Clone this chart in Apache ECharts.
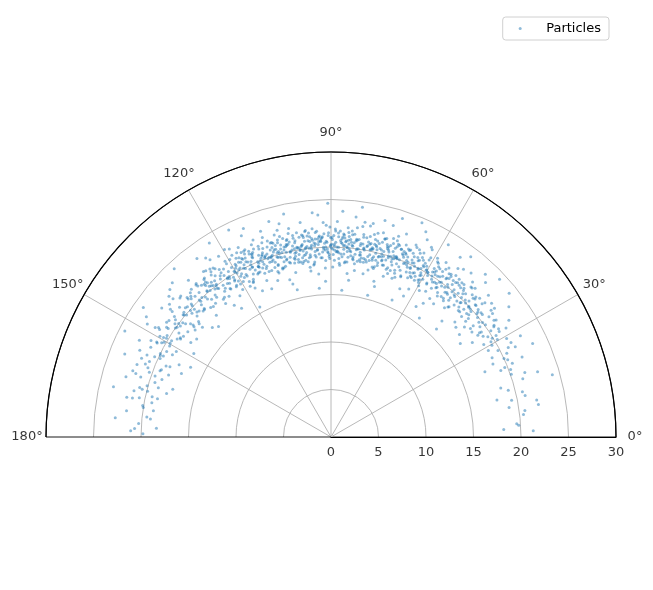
<!DOCTYPE html>
<html lang="en">

<head>
  <meta charset="utf-8" />
  <title></title>
  <script src="https://cdn.jsdelivr.net/npm/echarts@6/dist/echarts.min.js"></script>
  <style>
    * {
      margin: 0;
      padding: 0;
    }

    #chart-container {
      position: relative;
      width: 653px;
      height: 590px;
      overflow: hidden;
    }
  </style>
</head>

<body>
  <div id="chart-container"></div>

  <script>
    // [radius, angle in degrees], read off the picture bin by bin
    // wide band, incl. the outliers
    const particlesBand = [
      [18.2, 2.5], [19.6, 4.1], [21.3, 1.8], [20.4, 6.7], [22.1, 8.9], [19.0, 9.4],
      [19.4, 11.5], [22.0, 10.2], [24.2, 15.7], [20.7, 13.3], [18.6, 16.1], [21.5, 18.4], [20.1, 19.2], [17.9, 12.6], [22.8, 17.5],
      [20.5, 25.5], [19.2, 21.4], [21.8, 22.7], [18.7, 24.3], [20.9, 26.8], [22.6, 28.1], [19.8, 27.4], [17.6, 23.0], [21.2, 29.3], [20.2, 20.6], [23.4, 24.9], [18.9, 28.8], [20.6, 22.1], [19.5, 29.7], [21.6, 26.1],
      [20.3, 30.4], [18.8, 31.2], [21.7, 31.9], [19.6, 32.6], [22.4, 33.3], [17.9, 33.8], [20.8, 34.4], [19.1, 35.1], [21.1, 35.6], [23.2, 36.2], [18.5, 36.7], [20.0, 37.1], [19.7, 37.8], [21.9, 38.2], [17.3, 38.6], [20.5, 39.0], [18.2, 39.5], [22.0, 39.8], [19.3, 34.9], [20.9, 32.1], [16.8, 35.9], [21.4, 37.4], [19.9, 31.5], [24.1, 38.9], [20.2, 33.6],
      [20.1, 40.2], [18.7, 40.7], [21.5, 41.1], [19.4, 41.6], [22.3, 42.0], [20.6, 42.5], [17.8, 42.9], [19.9, 43.3], [21.0, 43.8], [18.9, 44.2], [20.4, 44.6], [23.0, 45.0], [19.2, 45.5], [21.8, 45.9], [16.9, 46.3], [20.7, 46.8], [19.5, 47.2], [22.1, 47.6], [18.4, 48.0], [20.2, 48.5], [21.3, 48.9], [19.0, 49.3], [20.9, 49.8], [17.5, 41.3], [24.3, 43.1], [20.0, 44.9], [19.7, 46.0], [21.6, 47.0], [18.1, 48.7], [22.7, 49.5], [20.5, 40.9], [19.3, 42.3], [21.2, 44.0], [15.9, 45.7], [20.8, 47.9], [19.8, 49.1], [23.6, 46.5],
      [20.2, 50.1], [18.6, 50.5], [21.4, 50.9], [19.5, 51.3], [22.5, 51.7], [20.0, 52.0], [17.7, 52.4], [19.8, 52.8], [21.1, 53.2], [18.9, 53.6], [20.6, 54.0], [23.3, 54.3], [19.3, 54.7], [21.7, 55.1], [17.1, 55.4], [20.4, 55.8], [19.6, 56.2], [22.0, 56.6], [18.3, 57.0], [20.3, 57.3], [21.2, 57.7], [19.1, 58.1], [20.8, 58.5], [18.0, 58.9], [21.9, 59.2], [20.1, 59.6], [19.4, 50.8], [24.0, 52.2], [20.7, 53.9], [16.4, 56.9], [21.5, 58.3], [19.9, 55.0], [18.8, 51.9], [22.2, 53.0], [20.5, 57.9], [19.2, 59.8], [23.7, 58.6], [17.9, 54.5], [21.0, 56.0], [20.9, 51.1], [19.7, 57.5], [15.6, 53.4],
      [20.3, 60.2], [18.7, 60.5], [21.6, 60.9], [19.4, 61.2], [22.4, 61.6], [20.1, 61.9], [17.6, 62.3], [19.9, 62.6], [21.2, 63.0], [18.8, 63.3], [20.7, 63.7], [23.1, 64.0], [19.2, 64.4], [21.8, 64.7], [17.2, 65.1], [20.5, 65.4], [19.6, 65.8], [22.1, 66.1], [18.4, 66.5], [20.2, 66.8], [21.3, 67.2], [19.0, 67.5], [20.9, 67.9], [18.1, 68.2], [21.7, 68.6], [20.0, 68.9], [19.5, 69.3], [22.8, 69.6], [20.6, 60.7], [16.7, 62.8], [21.0, 64.2], [19.8, 66.3], [24.5, 67.0], [18.5, 68.8], [20.4, 61.4], [19.3, 63.5], [21.9, 65.6], [20.8, 67.7], [17.9, 69.0], [22.6, 62.1], [19.7, 64.9], [21.4, 66.9], [20.1, 69.8], [18.9, 61.0], [23.8, 65.2], [15.8, 66.0], [20.6, 68.4], [19.1, 62.4], [21.1, 69.5], [20.0, 63.9],
      [20.2, 70.1], [18.6, 70.4], [21.5, 70.7], [19.5, 71.0], [22.3, 71.4], [20.0, 71.7], [17.8, 72.0], [19.8, 72.3], [21.1, 72.7], [18.9, 73.0], [20.7, 73.3], [23.2, 73.6], [19.3, 74.0], [21.7, 74.3], [17.0, 74.6], [20.4, 74.9], [19.6, 75.3], [22.2, 75.6], [18.3, 75.9], [20.3, 76.2], [21.2, 76.6], [19.1, 76.9], [20.8, 77.2], [18.0, 77.5], [21.8, 77.9], [20.1, 78.2], [19.4, 78.5], [22.9, 78.8], [20.5, 79.2], [18.7, 79.5], [21.3, 79.8], [19.9, 70.6], [24.2, 71.9], [20.6, 72.9], [16.5, 73.9], [21.6, 74.8], [19.7, 75.1], [18.4, 76.4], [22.0, 77.0], [20.2, 78.0], [19.0, 79.0], [23.5, 76.0], [17.5, 78.9], [21.0, 71.2], [20.9, 73.5], [19.2, 75.8], [20.4, 77.7], [18.2, 70.9], [21.9, 72.5], [20.0, 74.5], [19.5, 76.7], [22.6, 79.4], [20.7, 78.6], [15.4, 75.5], [21.4, 70.3], [19.8, 73.8], [20.3, 77.4], [18.8, 71.5],
      [20.1, 80.2], [18.7, 80.5], [21.6, 80.8], [19.4, 81.1], [22.4, 81.4], [20.0, 81.7], [17.7, 82.0], [19.9, 82.3], [21.0, 82.6], [18.8, 82.9], [20.6, 83.2], [23.3, 83.5], [19.2, 83.8], [21.8, 84.1], [17.3, 84.4], [20.4, 84.7], [19.6, 85.0], [22.1, 85.3], [18.4, 85.6], [20.2, 85.9], [21.3, 86.2], [19.0, 86.5], [20.9, 86.8], [18.1, 87.1], [21.7, 87.4], [20.0, 87.7], [19.5, 88.0], [22.7, 88.3], [20.5, 88.6], [18.6, 88.9], [21.2, 89.2], [19.8, 89.5], [20.3, 89.8], [24.4, 82.2], [16.6, 83.6], [20.8, 84.9], [19.3, 86.0], [21.5, 87.9], [20.1, 89.0], [18.9, 80.9], [22.2, 82.8], [19.7, 84.2], [20.7, 85.5], [18.3, 87.3], [21.9, 88.8], [20.4, 81.3], [19.1, 83.0], [21.1, 86.6], [23.8, 87.0], [17.9, 89.4], [20.6, 80.6], [19.9, 84.5], [20.2, 86.3], [21.4, 83.9], [19.6, 88.1], [15.5, 85.8], [22.9, 81.0], [20.9, 82.4], [18.5, 84.8], [21.0, 89.7], [19.4, 87.6], [20.0, 85.1],
      [20.2, 90.1], [18.8, 90.4], [21.5, 90.7], [19.5, 91.0], [22.3, 91.3], [20.0, 91.6], [17.8, 91.9], [19.8, 92.2], [21.1, 92.5], [18.9, 92.8], [20.7, 93.1], [23.4, 93.4], [19.3, 93.7], [21.7, 94.0], [17.2, 94.3], [20.4, 94.6], [19.6, 94.9], [22.0, 95.2], [18.3, 95.5], [20.3, 95.8], [21.2, 96.1], [19.1, 96.4], [20.8, 96.7], [18.0, 97.0], [21.8, 97.3], [20.1, 97.6], [19.4, 97.9], [22.8, 98.2], [20.5, 98.5], [18.7, 98.8], [21.3, 99.1], [19.9, 99.4], [20.2, 99.7], [24.6, 90.8], [16.4, 92.0], [20.6, 93.6], [19.2, 95.0], [21.6, 96.3], [20.0, 97.8], [18.5, 99.2], [22.1, 90.3], [19.7, 91.8], [20.9, 93.9], [18.2, 95.7], [21.9, 97.1], [20.3, 98.9], [19.0, 90.6], [21.0, 92.6], [23.7, 94.8], [17.6, 96.9], [20.5, 91.2], [19.8, 94.1], [20.1, 96.0], [21.4, 98.0], [19.5, 99.9], [15.7, 94.5], [22.6, 92.1], [20.8, 95.4], [18.6, 97.4], [21.2, 93.3], [19.3, 98.4], [20.0, 96.6],
      [20.3, 100.2], [18.7, 100.5], [21.6, 100.8], [19.4, 101.1], [22.4, 101.5], [20.1, 101.8], [17.7, 102.1], [19.9, 102.4], [21.2, 102.8], [18.8, 103.1], [20.6, 103.4], [23.1, 103.7], [19.2, 104.1], [21.8, 104.4], [17.1, 104.7], [20.5, 105.0], [19.6, 105.4], [22.1, 105.7], [18.4, 106.0], [20.2, 106.3], [21.3, 106.7], [19.0, 107.0], [20.9, 107.3], [18.1, 107.6], [21.7, 108.0], [20.0, 108.3], [19.5, 108.6], [22.9, 108.9], [20.4, 109.3], [18.6, 109.6], [21.1, 109.9], [19.8, 100.7], [24.0, 102.0], [20.7, 103.0], [16.6, 104.0], [21.5, 105.2], [19.7, 106.5], [18.3, 107.8], [22.2, 109.0], [20.1, 104.9], [19.1, 101.4], [23.6, 106.1], [17.4, 108.8], [21.0, 100.4], [20.8, 102.6], [19.3, 103.9], [20.3, 105.8], [18.9, 107.1], [21.9, 101.9], [20.0, 103.6], [19.6, 108.1], [22.5, 104.6], [20.6, 106.9], [15.9, 102.9], [21.4, 107.4], [19.9, 109.5], [20.2, 101.0], [18.5, 105.5],
      [20.2, 110.2], [18.6, 110.5], [21.5, 110.9], [19.5, 111.2], [22.3, 111.6], [20.0, 111.9], [17.8, 112.3], [19.8, 112.6], [21.1, 113.0], [18.9, 113.3], [20.7, 113.7], [23.2, 114.0], [19.3, 114.4], [21.7, 114.7], [17.0, 115.1], [20.4, 115.4], [19.6, 115.8], [22.2, 116.1], [18.3, 116.5], [20.3, 116.8], [21.2, 117.2], [19.1, 117.5], [20.8, 117.9], [18.0, 118.2], [21.8, 118.6], [20.1, 118.9], [19.4, 119.3], [22.7, 119.6], [20.5, 110.7], [16.8, 111.8], [21.0, 113.5], [19.7, 114.9], [24.3, 116.3], [18.5, 117.7], [20.6, 119.0], [19.2, 112.0], [21.4, 113.9], [20.9, 115.6], [17.6, 117.0], [22.5, 118.4], [19.9, 119.8], [20.2, 111.4], [18.8, 114.2], [21.6, 116.0], [20.0, 117.4], [23.8, 112.8], [15.6, 118.7], [20.7, 110.4], [19.5, 113.1], [21.3, 115.3], [18.2, 116.7], [20.4, 119.5], [19.0, 111.0], [21.9, 112.5],
      [20.1, 120.2], [18.7, 120.6], [21.6, 121.1], [19.4, 121.5], [22.4, 121.9], [20.0, 122.4], [17.7, 122.8], [19.9, 123.2], [21.2, 123.7], [18.8, 124.1], [20.6, 124.5], [23.0, 125.0], [19.2, 125.4], [21.8, 125.8], [17.2, 126.3], [20.5, 126.7], [19.6, 127.1], [22.0, 127.6], [18.4, 128.0], [20.3, 128.4], [21.3, 128.9], [19.0, 129.3], [20.9, 129.7], [18.1, 120.9], [24.1, 122.1], [20.4, 123.5], [16.5, 124.8], [21.5, 126.0], [19.7, 127.4], [20.8, 128.7], [19.3, 121.7], [22.6, 124.3], [18.3, 125.9], [20.2, 127.9], [21.0, 129.0], [19.8, 122.6], [23.5, 126.9], [17.9, 128.3], [20.7, 120.4], [19.5, 124.0], [21.9, 127.0], [20.0, 129.5],
      [20.2, 130.3], [18.6, 130.8], [21.5, 131.3], [19.5, 131.8], [22.3, 132.3], [20.0, 132.8], [17.6, 133.3], [19.8, 133.8], [21.2, 134.3], [18.9, 134.8], [20.7, 135.3], [23.3, 135.8], [19.2, 136.3], [21.7, 136.8], [17.0, 137.3], [20.4, 137.8], [19.6, 138.3], [22.1, 138.8], [18.3, 139.3], [20.3, 139.7], [21.0, 130.5], [24.2, 133.0], [16.6, 135.5], [20.9, 136.0], [19.3, 137.0], [22.6, 139.0], [18.5, 132.0], [20.6, 134.0], [19.9, 138.0], [21.4, 131.6], [20.1, 136.6], [17.8, 139.5], [23.0, 137.5], [19.0, 134.6],
      [20.1, 140.3], [18.7, 140.9], [21.6, 141.5], [19.4, 142.1], [22.4, 142.7], [20.0, 143.3], [17.5, 143.9], [19.9, 144.5], [21.1, 145.1], [18.8, 145.7], [20.6, 146.3], [23.2, 146.9], [19.2, 147.5], [21.8, 148.1], [16.9, 148.7], [20.5, 149.3], [19.6, 149.8], [22.0, 140.6], [18.2, 141.8], [20.3, 144.0], [24.0, 145.4], [19.0, 146.6], [21.3, 147.9], [20.8, 142.4], [17.8, 146.0], [22.7, 148.4], [19.7, 143.6], [20.2, 149.0], [18.5, 141.2],
      [20.2, 150.4], [18.6, 151.1], [21.5, 151.8], [19.5, 152.5], [22.6, 153.2], [20.0, 153.9], [17.7, 154.6], [19.8, 155.3], [21.2, 156.0], [18.9, 156.7], [20.7, 157.4], [23.4, 158.1], [19.3, 158.8], [21.8, 159.5], [17.1, 157.0], [20.4, 150.9], [24.4, 152.8], [19.6, 154.2], [22.1, 155.6], [18.3, 159.1], [20.9, 151.4], [16.5, 153.6], [21.0, 158.5],
      [20.3, 160.4], [18.8, 161.2], [21.6, 162.0], [19.4, 162.8], [22.5, 163.6], [20.1, 164.4], [17.9, 165.2], [19.9, 166.0], [21.3, 166.8], [18.7, 167.6], [23.5, 167.0], [20.6, 168.4], [19.2, 169.2], [22.0, 161.5], [17.4, 163.2], [20.8, 165.5], [21.9, 169.0],
      [20.1, 170.5], [18.9, 171.6], [21.7, 172.7], [19.5, 173.8], [22.8, 174.9], [20.3, 176.0], [18.4, 177.1], [21.1, 178.2], [19.8, 179.0]
    ];

    // dense core of the band, close to r = 20
    const particlesCore = [
      [19.8, 3.6], [20.6, 7.8], [20.9, 12.1], [19.3, 14.8], [21.1, 16.9], [19.7, 21.8], [20.3, 23.6], [18.9, 26.2], [21.4, 27.7], [20.0, 24.4],
      [19.6, 30.8], [20.4, 31.6], [21.0, 32.9], [19.2, 33.5], [20.7, 34.1], [18.8, 34.7], [21.3, 35.3], [20.1, 36.0], [19.5, 36.5], [20.9, 37.3], [18.6, 37.9], [21.5, 38.4], [19.9, 39.2], [20.5, 39.6], [19.0, 38.0],
      [20.3, 40.4], [19.1, 40.8], [21.2, 41.4], [19.8, 41.9], [20.6, 42.2], [18.7, 42.7], [21.4, 43.0], [20.0, 43.5], [19.4, 43.9], [20.9, 44.3], [18.9, 44.8], [21.1, 45.2], [20.2, 45.6], [19.6, 46.1], [21.6, 46.6], [19.0, 47.0], [20.5, 47.4], [18.5, 47.8], [21.0, 48.2], [19.7, 48.6], [20.8, 49.0], [19.3, 49.4], [21.3, 49.7], [20.1, 46.9], [19.9, 42.6],
      [19.9, 50.2], [21.0, 50.6], [18.8, 51.0], [20.5, 51.5], [19.4, 51.8], [21.5, 52.3], [20.2, 52.6], [18.6, 53.0], [20.8, 53.3], [19.7, 53.8], [21.2, 54.1], [20.0, 54.5], [19.2, 54.9], [20.6, 55.2], [21.4, 55.6], [18.9, 56.0], [20.3, 56.4], [19.5, 56.8], [21.1, 57.1], [20.7, 57.6], [19.0, 58.0], [20.4, 58.4], [21.6, 58.7], [19.8, 59.1], [20.1, 59.5], [18.4, 59.9], [20.9, 52.0], [19.6, 55.5], [21.3, 53.6], [20.0, 57.9],
      [20.2, 60.3], [19.0, 60.6], [21.3, 61.0], [19.7, 61.3], [20.5, 61.7], [18.7, 62.0], [21.0, 62.4], [20.0, 62.7], [19.4, 63.1], [20.8, 63.4], [18.9, 63.8], [21.5, 64.1], [20.3, 64.5], [19.6, 64.8], [20.9, 65.2], [19.1, 65.5], [21.2, 65.9], [20.1, 66.2], [18.5, 66.6], [20.6, 66.9], [19.8, 67.3], [21.4, 67.6], [20.4, 68.0], [19.3, 68.3], [20.7, 68.7], [18.8, 69.1], [21.1, 69.4], [20.0, 69.7], [19.5, 60.9], [21.7, 63.2], [20.2, 65.0], [19.9, 67.0], [18.6, 64.3], [20.8, 61.5], [21.0, 68.5],
      [20.1, 70.2], [19.2, 70.5], [21.2, 70.8], [19.8, 71.1], [20.6, 71.5], [18.6, 71.8], [21.4, 72.1], [20.0, 72.4], [19.5, 72.8], [20.9, 73.1], [18.9, 73.4], [21.1, 73.7], [20.3, 74.1], [19.7, 74.4], [21.6, 74.7], [19.0, 75.0], [20.5, 75.4], [18.5, 75.7], [21.0, 76.0], [19.9, 76.3], [20.7, 76.7], [19.3, 77.0], [21.3, 77.3], [20.2, 77.6], [19.6, 78.0], [20.8, 78.3], [18.8, 78.6], [21.5, 78.9], [20.4, 79.3], [19.1, 79.6], [20.0, 79.9], [21.8, 71.3], [19.4, 73.9], [20.6, 76.5], [20.2, 70.9], [19.0, 77.8], [21.2, 75.2], [20.4, 72.6], [18.7, 74.9], [20.9, 79.1],
      [20.2, 80.1], [19.1, 80.4], [21.3, 80.7], [19.7, 81.0], [20.6, 81.2], [18.7, 81.5], [21.0, 81.9], [20.0, 82.1], [19.4, 82.5], [20.8, 82.7], [18.9, 83.1], [21.5, 83.3], [20.3, 83.7], [19.6, 83.9], [20.9, 84.3], [19.0, 84.6], [21.2, 84.8], [20.1, 85.2], [18.5, 85.4], [20.6, 85.7], [19.8, 86.1], [21.4, 86.4], [20.4, 86.7], [19.3, 86.9], [20.7, 87.2], [18.8, 87.5], [21.1, 87.8], [20.0, 88.2], [19.5, 88.4], [21.7, 88.7], [20.3, 89.0], [19.2, 89.3], [20.8, 89.6], [19.9, 89.9], [18.4, 82.3], [21.6, 85.0], [20.5, 87.0], [19.7, 88.9], [20.2, 83.5], [21.0, 86.0], [19.4, 80.8], [20.6, 84.0],
      [20.1, 90.2], [19.2, 90.5], [21.2, 90.8], [19.8, 91.1], [20.6, 91.4], [18.6, 91.7], [21.4, 92.0], [20.0, 92.3], [19.5, 92.6], [20.9, 92.9], [18.9, 93.2], [21.1, 93.5], [20.3, 93.8], [19.7, 94.2], [21.6, 94.4], [19.0, 94.7], [20.5, 95.0], [18.5, 95.3], [21.0, 95.6], [19.9, 95.9], [20.7, 96.2], [19.3, 96.5], [21.3, 96.8], [20.2, 97.2], [19.6, 97.5], [20.8, 97.7], [18.8, 98.1], [21.5, 98.3], [20.4, 98.7], [19.1, 99.0], [20.0, 99.3], [21.8, 99.6], [19.4, 90.9], [20.6, 93.0], [20.2, 94.9], [19.0, 96.9], [21.2, 97.9], [20.4, 91.9], [18.7, 99.8], [20.9, 94.6], [19.8, 98.5], [21.0, 90.1],
      [20.2, 100.1], [19.0, 100.4], [21.3, 100.8], [19.7, 101.1], [20.5, 101.4], [18.7, 101.8], [21.0, 102.1], [20.0, 102.4], [19.4, 102.8], [20.8, 103.1], [18.9, 103.4], [21.5, 103.7], [20.3, 104.1], [19.6, 104.4], [20.9, 104.7], [19.1, 105.0], [21.2, 105.4], [20.1, 105.7], [18.5, 106.0], [20.6, 106.4], [19.8, 106.7], [21.4, 107.0], [20.4, 107.3], [19.3, 107.7], [20.7, 108.0], [18.8, 108.3], [21.1, 108.6], [20.0, 109.0], [19.5, 109.3], [21.7, 109.6], [20.3, 109.9], [19.2, 101.6], [20.6, 103.9], [21.0, 106.2], [19.9, 108.5], [18.6, 104.9], [20.8, 100.6], [20.1, 107.9], [21.3, 102.6], [19.7, 105.9],
      [20.1, 110.3], [19.2, 110.6], [21.2, 111.0], [19.8, 111.3], [20.6, 111.7], [18.6, 112.0], [21.4, 112.4], [20.0, 112.7], [19.5, 113.1], [20.9, 113.4], [18.9, 113.8], [21.1, 114.1], [20.3, 114.5], [19.7, 114.8], [21.6, 115.2], [19.0, 115.5], [20.5, 115.9], [18.5, 116.2], [21.0, 116.6], [19.9, 116.9], [20.7, 117.3], [19.3, 117.6], [21.3, 118.0], [20.2, 118.3], [19.6, 118.7], [20.8, 119.0], [18.8, 119.4], [21.5, 119.7], [20.4, 110.9], [19.4, 112.9], [20.0, 115.0], [21.8, 117.1], [19.1, 118.5], [20.6, 113.6], [20.9, 116.4],
      [20.2, 120.3], [19.1, 120.7], [21.3, 121.1], [19.7, 121.4], [20.5, 121.8], [18.7, 122.2], [21.0, 122.6], [20.0, 123.0], [19.4, 123.4], [20.8, 123.8], [18.9, 124.2], [21.5, 124.6], [20.3, 125.0], [19.6, 125.4], [20.9, 125.7], [19.0, 126.1], [21.2, 126.5], [20.1, 126.9], [18.5, 127.3], [20.6, 127.7], [19.8, 128.1], [21.4, 128.5], [20.4, 128.9], [19.3, 129.2], [20.7, 129.6], [18.8, 121.9], [21.7, 124.9], [20.0, 127.2],
      [20.1, 130.4], [19.2, 130.9], [21.2, 131.4], [19.8, 131.9], [20.6, 132.4], [18.6, 132.9], [21.4, 133.4], [20.0, 133.9], [19.5, 134.4], [20.9, 134.9], [18.9, 135.4], [21.1, 135.9], [20.3, 136.4], [19.7, 136.9], [21.6, 137.4], [19.0, 137.9], [20.5, 138.4], [18.5, 138.9], [21.0, 139.4], [19.9, 139.8],
      [20.2, 140.4], [19.0, 141.1], [21.3, 141.7], [19.7, 142.4], [20.5, 143.0], [18.7, 143.7], [21.0, 144.3], [20.0, 145.0], [19.4, 145.6], [20.8, 146.3], [18.9, 146.9], [21.5, 147.6], [20.3, 148.2], [19.6, 148.9], [20.9, 149.5],
      [19.5, 150.6], [20.8, 151.6], [18.8, 152.6], [21.2, 153.5], [19.9, 154.5], [20.4, 155.5], [18.5, 156.4], [21.6, 157.4], [19.2, 158.4], [20.6, 159.3],
      [19.6, 160.9], [21.0, 162.5], [18.9, 164.1], [20.5, 165.8], [19.3, 167.3], [21.3, 168.9],
      [20.0, 171.1], [19.1, 174.3], [20.7, 177.5]
    ];

    const seriesName = "Particles";
    const angleTicks = [0, 30, 60, 90, 120, 150, 180];
    const radiusTicks = [0, 5, 10, 15, 20, 25, 30];
    const angleLabelRadius = 32; // matplotlib puts the theta labels a bit outside the rim
  </script>

  <script>
    var dom = document.getElementById("chart-container");
    var myChart = echarts.init(dom, null, {
      renderer: "canvas",
      useDirtyRect: false,
    });

    var font = "DejaVu Sans";
    var grid = "#b0b0b0";

    var tickLabel = {
      show: true,
      position: "inside",
      fontFamily: font,
      fontSize: 13,
      color: "#000",
    };

    var option = {
      animation: false,
      backgroundColor: "#fff",
      legend: {
        data: [seriesName],
        right: 44,
        top: 17,
        padding: [5, 8, 5, 16],
        borderColor: "#d0d0d0",
        borderWidth: 1,
        borderRadius: 3,
        icon: "circle",
        itemWidth: 42,
        itemHeight: 3,
        textStyle: { fontFamily: font, fontSize: 13, color: "#000" },
      },
      polar: {
        center: [331, 437],
        radius: 285,
      },
      angleAxis: {
        type: "value",
        min: angleTicks[0],
        max: angleTicks[angleTicks.length - 1],
        interval: 30,
        startAngle: 0,
        endAngle: 180,
        clockwise: false,
        axisLine: { show: true, lineStyle: { color: "#000", width: 1.2 } },
        axisTick: { show: false },
        axisLabel: { show: false },
        splitLine: {
          show: true,
          lineStyle: {
            color: ["#000", grid, grid, grid, grid, grid, "#000"],
            width: 0.9,
          },
        },
      },
      radiusAxis: {
        type: "value",
        min: radiusTicks[0],
        max: radiusTicks[radiusTicks.length - 1],
        interval: 5,
        axisLine: { show: true, lineStyle: { color: "#000", width: 1.2 } },
        axisTick: { show: false },
        axisLabel: { show: false },
        splitLine: {
          show: true,
          lineStyle: {
            color: [grid, grid, grid, grid, grid, grid, "#000"],
            width: 0.9,
          },
        },
      },
      series: [
        {
          name: seriesName,
          type: "scatter",
          coordinateSystem: "polar",
          data: particlesBand.concat(particlesCore),
          symbol: "circle",
          symbolSize: 3,
          itemStyle: { color: "#1f77b4", opacity: 0.5 },
        },
        {
          // theta tick labels, centred like matplotlib does
          name: "angleLabels",
          type: "scatter",
          coordinateSystem: "polar",
          clip: false,
          silent: true,
          symbolSize: 0,
          data: angleTicks.map((a) => [angleLabelRadius, a]),
          label: Object.assign({}, tickLabel, {
            formatter: (p) => p.value[1] + "°",
          }),
        },
        {
          // r tick labels, under the 0° baseline
          name: "radiusLabels",
          type: "scatter",
          coordinateSystem: "polar",
          clip: false,
          silent: true,
          symbolSize: 0,
          data: radiusTicks.map((r) => [r, 0]),
          label: Object.assign({}, tickLabel, {
            offset: [0, 16],
            formatter: (p) => String(p.value[0]),
          }),
        },
      ],
    };

    if (option && typeof option === "object") {
      myChart.setOption(option);
    }

    window.addEventListener("resize", myChart.resize);
  </script>
</body>

</html>
